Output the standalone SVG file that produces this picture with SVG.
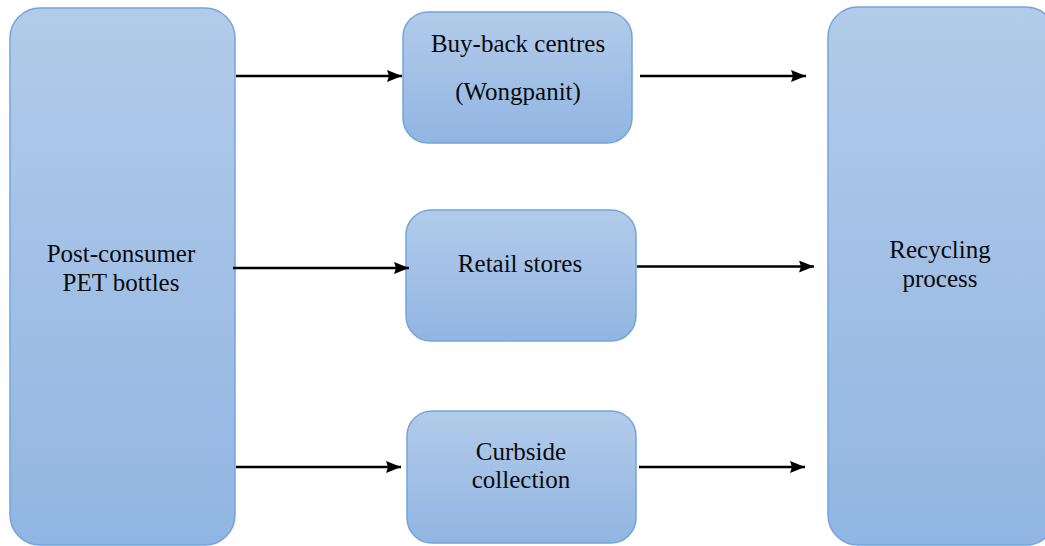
<svg xmlns="http://www.w3.org/2000/svg" width="1045" height="546" viewBox="0 0 1045 546">
<defs>
<linearGradient id="g" x1="0" y1="0" x2="0" y2="1">
<stop offset="0" stop-color="#b2cbea"/>
<stop offset="1" stop-color="#91b5e2"/>
</linearGradient>
<marker id="ah" viewBox="0 0 15 12" refX="15" refY="6" markerWidth="15" markerHeight="12" markerUnits="userSpaceOnUse" orient="auto">
<path d="M0,0 L15,6 L0,12 L2,6 z" fill="#000"/>
</marker>
<style>
.box{fill:url(#g);stroke:#74a5da;stroke-width:1.5}
.t{font-family:"Liberation Serif","Times New Roman",serif;font-size:25px;fill:#0a0a0a;text-anchor:middle}
.c{stroke:#000;stroke-width:2.5;fill:none;marker-end:url(#ah)}
</style>
</defs>
<rect width="1045" height="546" fill="#fff"/>
<g id="post-consumer">
<rect class="box" x="10" y="8" width="225" height="537" rx="30" ry="30"/>
<text class="t" x="121" y="262">Post-consumer</text>
<text class="t" x="121" y="291">PET bottles</text>
</g>
<g id="buy-back">
<rect class="box" x="403" y="12" width="229" height="131" rx="25" ry="25"/>
<text class="t" x="518" y="52">Buy-back centres</text>
<text class="t" x="518" y="100">(Wongpanit)</text>
</g>
<g id="retail">
<rect class="box" x="406" y="210" width="230" height="131" rx="25" ry="25"/>
<text class="t" x="520" y="272">Retail stores</text>
</g>
<g id="curbside">
<rect class="box" x="407" y="411" width="229" height="132" rx="25" ry="25"/>
<text class="t" x="521" y="460">Curbside</text>
<text class="t" x="521" y="488">collection</text>
</g>
<g id="recycling">
<rect class="box" x="828" y="7" width="228" height="538" rx="30" ry="30"/>
<text class="t" x="940" y="258">Recycling</text>
<text class="t" x="940" y="287">process</text>
</g>
<g id="connectors">
<line class="c" x1="236" y1="76" x2="402" y2="76"/>
<line class="c" x1="640" y1="76" x2="806" y2="76"/>
<line class="c" x1="233" y1="268" x2="409" y2="268"/>
<line class="c" x1="637" y1="266.5" x2="814" y2="266.5"/>
<line class="c" x1="236" y1="467" x2="401" y2="467"/>
<line class="c" x1="639" y1="467" x2="805" y2="467"/>
</g>
</svg>
